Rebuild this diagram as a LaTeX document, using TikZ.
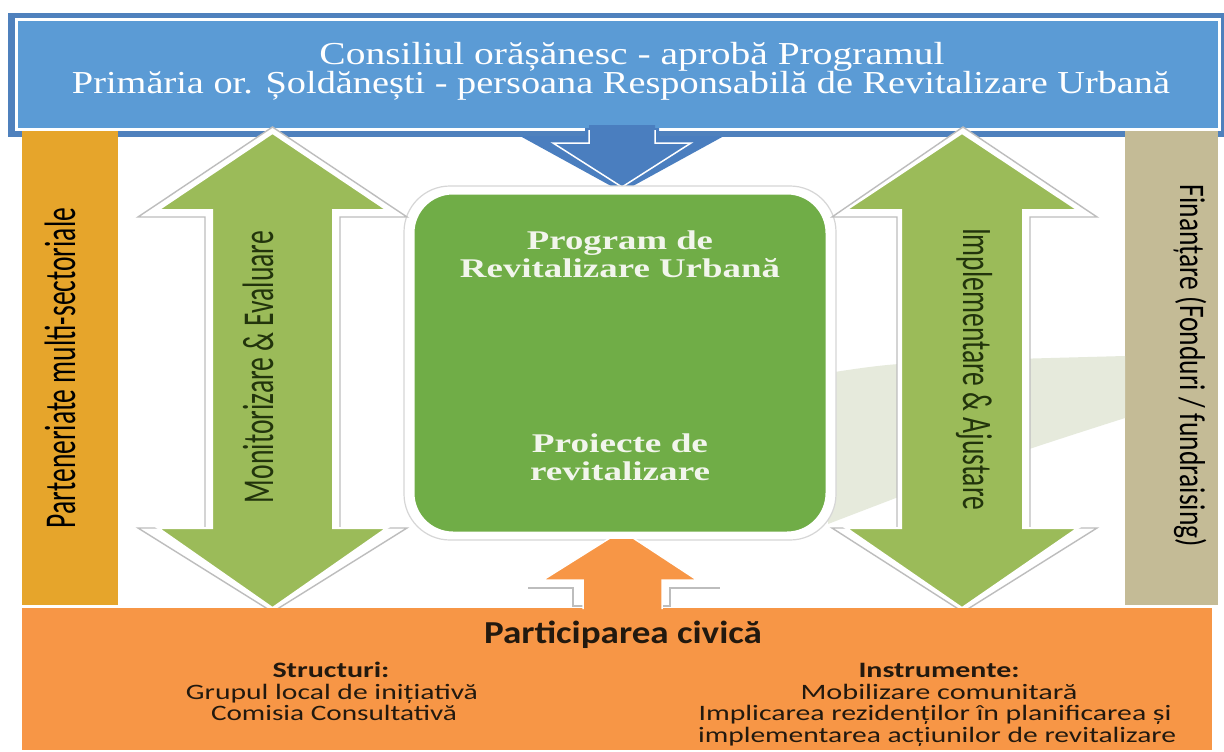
\documentclass[tikz,border=0pt]{standalone}
\usepackage{fontspec}
\usepackage{graphicx}
\newfontfamily\carl{Carlito}
\newfontfamily\tnr{Liberation Serif}
\newcommand{\wfit}[2]{\resizebox{#1}{\height}{#2}}
\definecolor{frameblue}{HTML}{4F81BD}
\definecolor{boxblue}{HTML}{5B9BD5}
\definecolor{arrowblue}{HTML}{4A7EBF}
\definecolor{gold}{HTML}{E6A52B}
\definecolor{tan}{HTML}{C4BB96}
\definecolor{lgreen}{HTML}{9BBB59}
\definecolor{cgreen}{HTML}{70AD47}
\definecolor{orng}{HTML}{F79646}
\definecolor{band}{HTML}{E6EADC}
\definecolor{shadowgray}{HTML}{BDBDBD}
\definecolor{lightgray2}{HTML}{D6D6D6}
\definecolor{txtgreen}{HTML}{22340C}
\definecolor{txtdark}{HTML}{22190F}
\definecolor{cream}{HTML}{F2F5EC}
\tikzset{
  shadowshape/.style={fill=white, draw=shadowgray, line width=1.4pt, line join=miter},
  greenarrow/.style={fill=lgreen, draw=white, line width=2pt, line join=miter},
  vtext/.style={inner sep=0pt, anchor=base, text=txtgreen},
  htext/.style={inner sep=0pt, anchor=base},
}
\begin{document}
\begin{tikzpicture}[x=1pt,y=-1pt]
\useasboundingbox (0,0) rectangle (1224,752);
\fill[white] (0,0) rectangle (1224,752);
% top blue box
\fill[frameblue] (8,13) rectangle (1226,137);
\fill[white] (15,18) rectangle (1221,131);
\fill[boxblue] (18,21) rectangle (1218,128);
\node[htext, text=white] (l1) at (632,65) {\wfit{625pt}{\tnr\fontsize{32}{34}\selectfont Consiliul orășănesc - aprobă Programul}};
\node[htext, text=white] (l2) at (621,94) {\wfit{1098pt}{\tnr\fontsize{32}{34}\selectfont Primăria or. Șoldănești - persoana Responsabilă de Revitalizare Urbană}};
% blue down arrow
\fill[arrowblue] (585,128) -- (585,136) -- (520,136) -- (622,192) -- (724,136) -- (659,136) -- (659,128) -- cycle;
\fill[arrowblue] (589,125) -- (589,143) -- (553,143) -- (622,187) -- (691,143) -- (655,143) -- (655,125) -- cycle;
\draw[white, line width=1.5pt] (589,130) -- (589,143) -- (553,143) -- (622,187) -- (691,143) -- (655,143) -- (655,130);
% side bars
\fill[gold] (22,131) rectangle (118,605);
\fill[tan] (1125,131) rectangle (1218,605);
% background band
\fill[band] (828,373) .. controls (900,362) .. (1125,356) -- (1125,418) .. controls (1000,458) .. (828,524) -- cycle;
% centre box
\draw[lightgray2, line width=1.2pt, fill=white, rounded corners=46pt] (404,186) rectangle (836,540);
\filldraw[fill=cgreen, draw=white, line width=3pt, rounded corners=40pt] (413,193) rectangle (827,533);
\node[htext, text=cream] (p1) at (620,249) {\wfit{186pt}{\tnr\bfseries\fontsize{27}{29}\selectfont Program de}};
\node[htext, text=cream] (p2) at (620,277) {\wfit{320pt}{\tnr\bfseries\fontsize{27}{29}\selectfont Revitalizare Urbană}};
\node[htext, text=cream] (p3) at (620,452) {\wfit{176pt}{\tnr\bfseries\fontsize{27}{29}\selectfont Proiecte de}};
\node[htext, text=cream] (p4) at (620,480) {\wfit{180pt}{\tnr\bfseries\fontsize{27}{29}\selectfont revitalizare}};
% left double arrow
\draw[shadowshape] (272.5,127) -- (407,217) -- (340,217) -- (340,528) -- (407,528) -- (272.5,612) -- (138,528) -- (205,528) -- (205,217) -- (138,217) -- cycle;
\draw[greenarrow] (272.5,133) -- (387,210) -- (333,210) -- (333,528) -- (387,528) -- (272.5,608) -- (158,528) -- (212,528) -- (212,210) -- (158,210) -- cycle;
% right double arrow
\draw[shadowshape] (963,127) -- (1097,217) -- (1030,217) -- (1030,528) -- (1097,528) -- (963,612) -- (832,528) -- (897,528) -- (897,217) -- (832,217) -- cycle;
\draw[greenarrow] (962,133) -- (1078,210) -- (1023,210) -- (1023,528) -- (1078,528) -- (962,608) -- (846,528) -- (901,528) -- (901,210) -- (846,210) -- cycle;
% vertical texts
\node[vtext, rotate=90, text=black] (part) at (75,368) {\wfit{320pt}{\carl\fontsize{44}{48}\selectfont Parteneriate multi-sectoriale}};
\node[vtext, rotate=90] (mon) at (273,367) {\wfit{272pt}{\carl\fontsize{44}{48}\selectfont Monitorizare \& Evaluare}};
\node[vtext, rotate=-90] (imp) at (963,369) {\wfit{282pt}{\carl\fontsize{42}{46}\selectfont Implementare \& Ajustare}};
\node[vtext, rotate=-90, text=black] (fin) at (1180,366) {\wfit{362pt}{\carl\fontsize{36}{40}\selectfont Finanțare (Fonduri / fundraising)}};
% bottom orange box
\fill[orng] (22,608) rectangle (1212,750);
% orange up arrow
\draw[shadowshape] (528,588) -- (573,588) -- (573,606) -- (670,606) -- (670,588) -- (720,588);
\filldraw[fill=orng, draw=white, line width=1.5pt] (583,609) -- (583,580) -- (543,580) -- (610,538) -- (633,538) -- (697,580) -- (662,580) -- (662,609);
\fill[orng] (584.5,600) rectangle (660.5,612);
% orange texts
\node[htext, text=txtdark] (civ) at (623,643) {\wfit{278pt}{\carl\bfseries\fontsize{32}{34}\selectfont Participarea civică}};
\node[htext, text=txtdark] (s0) at (331,677) {\wfit{117pt}{\carl\bfseries\fontsize{22}{24}\selectfont Structuri:}};
\node[htext, text=txtdark] (s1) at (332,699) {\wfit{292pt}{\carl\fontsize{22}{24}\selectfont Grupul local de inițiativă}};
\node[htext, text=txtdark] (s2) at (334,720) {\wfit{246pt}{\carl\fontsize{22}{24}\selectfont Comisia Consultativă}};
\node[htext, text=txtdark] (i0) at (939,677) {\wfit{161pt}{\carl\bfseries\fontsize{22}{24}\selectfont Instrumente:}};
\node[htext, text=txtdark] (i1) at (939,699) {\wfit{277pt}{\carl\fontsize{22}{24}\selectfont Mobilizare comunitară}};
\node[htext, text=txtdark] (i2) at (935,720) {\wfit{473pt}{\carl\fontsize{22}{24}\selectfont Implicarea rezidenților în planificarea și}};
\node[htext, text=txtdark] (i3) at (937,742) {\wfit{478pt}{\carl\fontsize{22}{24}\selectfont implementarea acțiunilor de revitalizare}};
\end{tikzpicture}
\end{document}
